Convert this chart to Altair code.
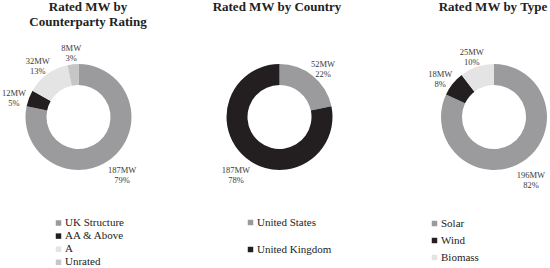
import altair as alt
import pandas as pd

# ---- data ----
rating_cats = ["UK Structure", "AA & Above", "A", "Unrated"]
rating_mw = [187, 12, 32, 8]
rating_pct = [79, 5, 13, 3]

country_cats = ["United States", "United Kingdom"]
country_mw = [52, 187]
country_pct = [22, 78]

type_cats = ["Solar", "Wind", "Biomass"]
type_mw = [196, 18, 25]
type_pct = [82, 8, 10]

titles = ["Rated MW by\nCounterparty Rating", "Rated MW by Country", "Rated MW by Type"]

# ---- styles ----
GREY = "#9b9b9d"
BLACK = "#231f20"
LIGHT = "#e4e4e4"
MID = "#c6c6c6"
rating_colors = [GREY, BLACK, LIGHT, MID]
country_colors = [GREY, BLACK]
type_colors = [GREY, BLACK, LIGHT]

SERIF = "Liberation Serif, Times New Roman, serif"
CY = 117


def donut(cats, mw, pct, colors, cx, legend_x, legend_y, row_pad):
    df = pd.DataFrame({
        "cat": cats,
        "mw": mw,
        "pct": pct,
        "order": list(range(len(cats))),
    })
    df["label"] = [f"{m}MW\n{p}%" for m, p in zip(mw, pct)]
    base = alt.Chart(df).encode(
        theta=alt.Theta("mw:Q", stack=True),
        order=alt.Order("order:Q"),
    )
    arc = base.mark_arc(innerRadius=32, outerRadius=53).encode(
        x=alt.value(cx),
        y=alt.value(CY),
        color=alt.Color(
            "cat:N",
            scale=alt.Scale(domain=cats, range=colors),
            sort=cats,
            legend=alt.Legend(
                orient="none",
                legendX=legend_x,
                legendY=legend_y,
                title=None,
                symbolType="square",
                symbolSize=30,
                symbolStrokeWidth=0,
                labelFont=SERIF,
                labelFontSize=11,
                labelColor="#222222",
                rowPadding=row_pad,
                labelOffset=1,
                padding=0,
            ),
        ),
    )
    text = base.mark_text(
        radius=69,
        font=SERIF,
        fontSize=8.5,
        lineBreak="\n",
        lineHeight=10,
        color="#3a3a3a",
    ).encode(
        x=alt.value(cx),
        y=alt.value(CY),
        text="label:N",
    )
    return alt.layer(arc, text)


def title_layer(text, cx):
    df = pd.DataFrame({"t": [text]})
    return alt.Chart(df).mark_text(
        font=SERIF,
        fontSize=13,
        fontWeight="bold",
        baseline="top",
        align="center",
        lineBreak="\n",
        lineHeight=15,
        color="#222222",
    ).encode(x=alt.value(cx), y=alt.value(1), text="t:N")


d1 = donut(rating_cats, rating_mw, rating_pct, rating_colors, 78.5, 53, 217.5, 1.1)
d2 = donut(country_cats, country_mw, country_pct, country_colors, 279.5, 245, 217, 15)
d3 = donut(type_cats, type_mw, type_pct, type_colors, 494, 429, 218, 5)

t1 = title_layer(titles[0], 88)
t2 = title_layer(titles[1], 277)
t3 = title_layer(titles[2], 493)

chart = (
    alt.layer(d1, d2, d3, t1, t2, t3)
    .resolve_scale(color="independent", theta="independent")
    .properties(width=550, height=268, autosize=alt.AutoSizeParams(type="none"), padding=0, background="white")
    .configure(font=SERIF)
    .configure_view(stroke=None)
)

chart.save("out.html", embed_options={"renderer": "svg", "actions": False})
